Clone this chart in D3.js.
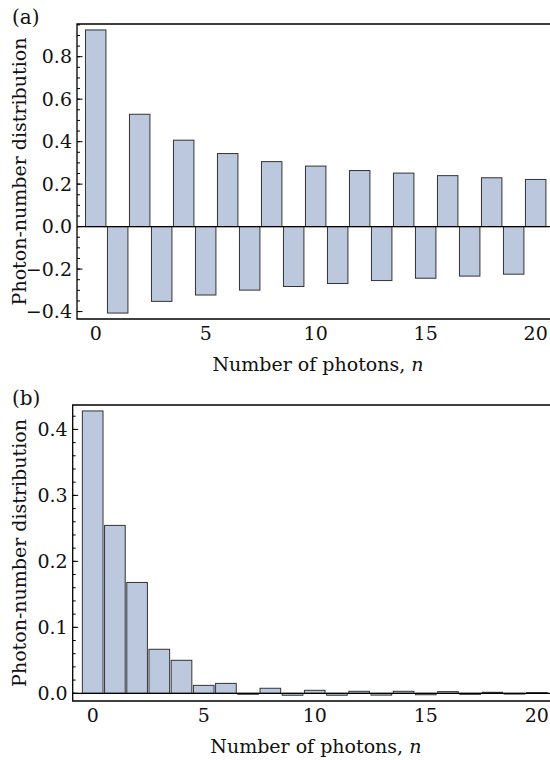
<!DOCTYPE html>
<html>
<head>
<meta charset="utf-8">
<script src="https://cdn.jsdelivr.net/npm/d3@7"></script>
<style>
  body { margin: 0; background: #fff; }
</style>
</head>
<body>
<svg id="chart" width="550" height="760"></svg>
<script>
// photon numbers n = 0..20
var photonN = d3.range(0, 21);

// panel (a): alternating positive / negative distribution
var distA = [0.926, -0.407, 0.529, -0.352, 0.407, -0.322, 0.344, -0.299, 0.306, -0.282,
             0.285, -0.268, 0.264, -0.254, 0.252, -0.243, 0.240, -0.233, 0.230, -0.224, 0.222];

// panel (b): photon-number distribution
var distB = [0.428, 0.2545, 0.168, 0.0667, 0.050, 0.012, 0.015, -0.0015, 0.0076, -0.003,
             0.0045, -0.003, 0.003, -0.0028, 0.003, -0.0022, 0.0025, -0.0016, 0.0015, -0.0012, 0.0011];

var ticksA = [-0.4, -0.2, 0.0, 0.2, 0.4, 0.6, 0.8];
var ticksB = [0.0, 0.1, 0.2, 0.3, 0.4];
var xTicks = [0, 5, 10, 15, 20];

var xLabel = "Number of photons, ";
var yLabel = "Photon-number distribution";

var barFill = "#bcc8de";
var barStroke = "#333";
var barWidth = 0.93;
var serif = "DejaVu Serif";
var fs = 19;

var svg = d3.select("#chart");

function fmt(v){
  var s = d3.format(".1f")(Math.abs(v));
  return (v < 0 ? "\u2212" : "") + s;
}

function drawPanel(cfg){
  var x = d3.scaleLinear().domain(cfg.xDomain).range([cfg.left, cfg.right]);
  var y = d3.scaleLinear().domain(cfg.yDomain).range([cfg.bottom, cfg.top]);

  var g = svg.append("g").attr("class", "panel");

  // bars
  g.selectAll(".bar")
      .data(cfg.values)
      .enter()
      .append("rect")
      .attr("class", "bar")
      .attr("x", function(d, i){ return x(photonN[i] - barWidth / 2); })
      .attr("width", x(barWidth) - x(0))
      .attr("y", function(d){ return y(Math.max(0, d)); })
      .attr("height", function(d){ return Math.max(0.6, Math.abs(y(d) - y(0))); })
      .attr("fill", barFill)
      .attr("stroke", barStroke)
      .attr("stroke-width", 1);

  // zero line
  g.append("line")
      .attr("x1", cfg.left).attr("x2", cfg.right)
      .attr("y1", y(0)).attr("y2", y(0))
      .attr("stroke", "#000").attr("stroke-width", 1.2);

  // frame (left, top, bottom)
  g.append("path")
      .attr("d", "M" + cfg.right + "," + cfg.top + "H" + cfg.left + "V" + cfg.bottom + "H" + cfg.right)
      .attr("fill", "none")
      .attr("stroke", "#000")
      .attr("stroke-width", 1.3);

  // minor ticks (inward)
  var minor = d3.range(Math.ceil(cfg.yDomain[0] / cfg.minorStep), Math.floor(cfg.yDomain[1] / cfg.minorStep) + 1)
      .map(function(k){ return k * cfg.minorStep; });
  g.selectAll(".minorTick")
      .data(minor)
      .enter()
      .append("line")
      .attr("x1", cfg.left).attr("x2", cfg.left + 3)
      .attr("y1", function(d){ return y(d); }).attr("y2", function(d){ return y(d); })
      .attr("stroke", "#000").attr("stroke-width", 1);

  // major ticks + labels
  g.selectAll(".majorTick")
      .data(cfg.yTicks)
      .enter()
      .append("line")
      .attr("x1", cfg.left).attr("x2", cfg.left + 5.5)
      .attr("y1", function(d){ return y(d); }).attr("y2", function(d){ return y(d); })
      .attr("stroke", "#000").attr("stroke-width", 1);

  g.selectAll(".yTickLabel")
      .data(cfg.yTicks)
      .enter()
      .append("text")
      .attr("x", cfg.left - 5)
      .attr("y", function(d){ return y(d); })
      .attr("dy", "0.35em")
      .attr("text-anchor", "end")
      .attr("font-family", serif)
      .attr("font-size", fs)
      .attr("fill", "#111")
      .text(fmt);

  g.selectAll(".xTickLabel")
      .data(xTicks)
      .enter()
      .append("text")
      .attr("x", function(d){ return x(d); })
      .attr("y", cfg.bottom + 21)
      .attr("text-anchor", "middle")
      .attr("font-family", serif)
      .attr("font-size", fs)
      .attr("fill", "#111")
      .text(function(d){ return d; });

  // axis titles
  var xt = g.append("text")
      .attr("x", (cfg.left + cfg.right) / 2)
      .attr("y", cfg.bottom + 52)
      .attr("text-anchor", "middle")
      .attr("font-family", serif)
      .attr("font-size", fs)
      .attr("fill", "#111")
      .text(xLabel);
  xt.append("tspan").attr("font-style", "italic").text("n");

  g.append("text")
      .attr("transform", "translate(" + cfg.yLabelX + "," + ((cfg.top + cfg.bottom) / 2) + ") rotate(-90)")
      .attr("text-anchor", "middle")
      .attr("font-family", serif)
      .attr("font-size", fs)
      .attr("fill", "#111")
      .text(yLabel);

  g.append("text")
      .attr("x", 12)
      .attr("y", cfg.top)
      .attr("font-family", serif)
      .attr("font-size", fs + 1)
      .attr("fill", "#111")
      .text(cfg.tag);
}

drawPanel({
  tag: "(a)",
  values: distA,
  left: 77, right: 559, top: 24, bottom: 319,
  xDomain: [-0.85, 21.06],
  yDomain: [-0.435, 0.954],
  yTicks: ticksA,
  minorStep: 0.05,
  yLabelX: 26
});

drawPanel({
  tag: "(b)",
  values: distB,
  left: 72.7, right: 559, top: 405, bottom: 701,
  xDomain: [-0.9, 21.0],
  yDomain: [-0.0117, 0.437],
  yTicks: ticksB,
  minorStep: 0.02,
  yLabelX: 26
});
</script>
</body>
</html>
